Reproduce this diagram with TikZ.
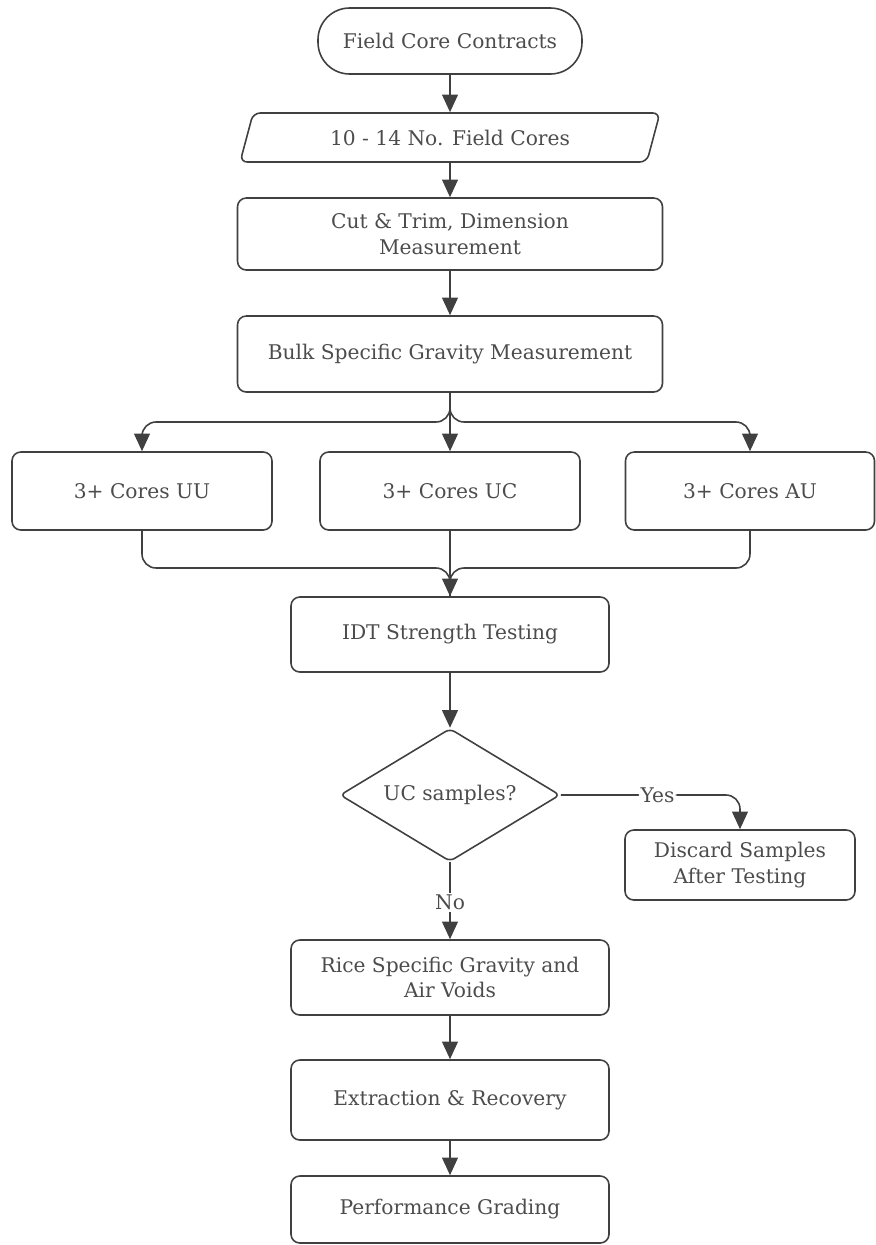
\documentclass[tikz,border=0pt]{standalone}
\usepackage{fontspec}
\setmainfont{DejaVu Serif}
\usepackage{xcolor}
\usetikzlibrary{arrows.meta,positioning,calc,shapes.geometric}

\begin{document}
\begin{tikzpicture}[
  box/.style={rectangle,draw=black!75,line width=0.9pt,rounded corners=5pt,align=center,text=black!70,inner sep=2pt},
  term/.style={box,rounded corners=18pt,minimum width=5.28cm,minimum height=1.32cm},
  data/.style={trapezium,draw=black!75,line width=0.9pt,rounded corners=4pt,text=black!70,
    trapezium left angle=73,trapezium right angle=107,trapezium stretches=true,
    minimum width=8.4cm,minimum height=0.98cm},
  decide/.style={diamond,draw=black!75,line width=0.9pt,rounded corners=3pt,text=black!70,
    aspect=1.67,inner sep=1pt,minimum width=4.4cm,minimum height=2.66cm},
  conn/.style={line width=0.9pt,draw=black!75},
  arrow/.style={conn,-{Triangle[length=10pt,width=9pt]}},
  lbl/.style={fill=white,text=black!70,inner sep=1pt},
  font=\fontsize{11.5}{14.5}\selectfont
]
\useasboundingbox (0,0) rectangle (17.52,-24.9);
% main column
\node[term] (start) at (9.0,-0.82) {Field Core Contracts};
\node[data] (cores) at (9.0,-2.75) {10 - 14 No. Field Cores};
\node[box,minimum width=8.5cm,minimum height=1.44cm] (trim) at (9.0,-4.68) {Cut \& Trim, Dimension\\Measurement};
\node[box,minimum width=8.5cm,minimum height=1.52cm] (bulk) at (9.0,-7.08) {Bulk Specific Gravity Measurement};
% three core sets
\node[box,minimum width=5.2cm,minimum height=1.56cm] (uu) at (2.84,-9.82) {3+ Cores UU};
\node[box,minimum width=5.2cm,minimum height=1.56cm] (uc) at (9.0,-9.82) {3+ Cores UC};
\node[box,minimum width=4.98cm,minimum height=1.56cm] (au) at (15.0,-9.82) {3+ Cores AU};
\coordinate (fork) at (9.0,-8.44);
\coordinate (join) at (9.0,-11.36);
\node[box,minimum width=6.36cm,minimum height=1.5cm] (idt) at (9.0,-12.69) {IDT Strength Testing};
\node[decide] (ucq) at (9.0,-15.9) {UC samples?};
\node[box,minimum width=4.6cm,minimum height=1.4cm] (discard) at (14.8,-17.3) {Discard Samples\\After Testing};
\node[box,minimum width=6.36cm,minimum height=1.5cm] (rice) at (9.0,-19.55) {Rice Specific Gravity and\\Air Voids};
\node[box,minimum width=6.36cm,minimum height=1.6cm] (extract) at (9.0,-22.0) {Extraction \& Recovery};
\node[box,minimum width=6.36cm,minimum height=1.34cm] (grade) at (9.0,-24.19) {Performance Grading};

\draw[arrow] (start) -- (cores);
\draw[arrow] (cores) -- (trim);
\draw[arrow] (trim) -- (bulk);
\draw[arrow,rounded corners=8pt] (bulk.south) -- (fork) -| (uu.north);
\draw[arrow] (bulk.south) -- (uc.north);
\draw[arrow,rounded corners=8pt] (bulk.south) -- (fork) -| (au.north);
\draw[conn,rounded corners=8pt] (uu.south) |- (join) -- (idt.north);
\draw[conn,rounded corners=8pt] (au.south) |- (join) -- (idt.north);
\draw[arrow] (uc.south) -- (idt.north);
\draw[arrow] (idt) -- (ucq);
\draw[arrow,rounded corners=8pt] (ucq.east) -| node[lbl,pos=0.27] {Yes} (discard.north);
\draw[arrow] (ucq.south) -- node[lbl,pos=0.52] {No} (rice.north);
\draw[arrow] (rice) -- (extract);
\draw[arrow] (extract) -- (grade);
\end{tikzpicture}
\end{document}
